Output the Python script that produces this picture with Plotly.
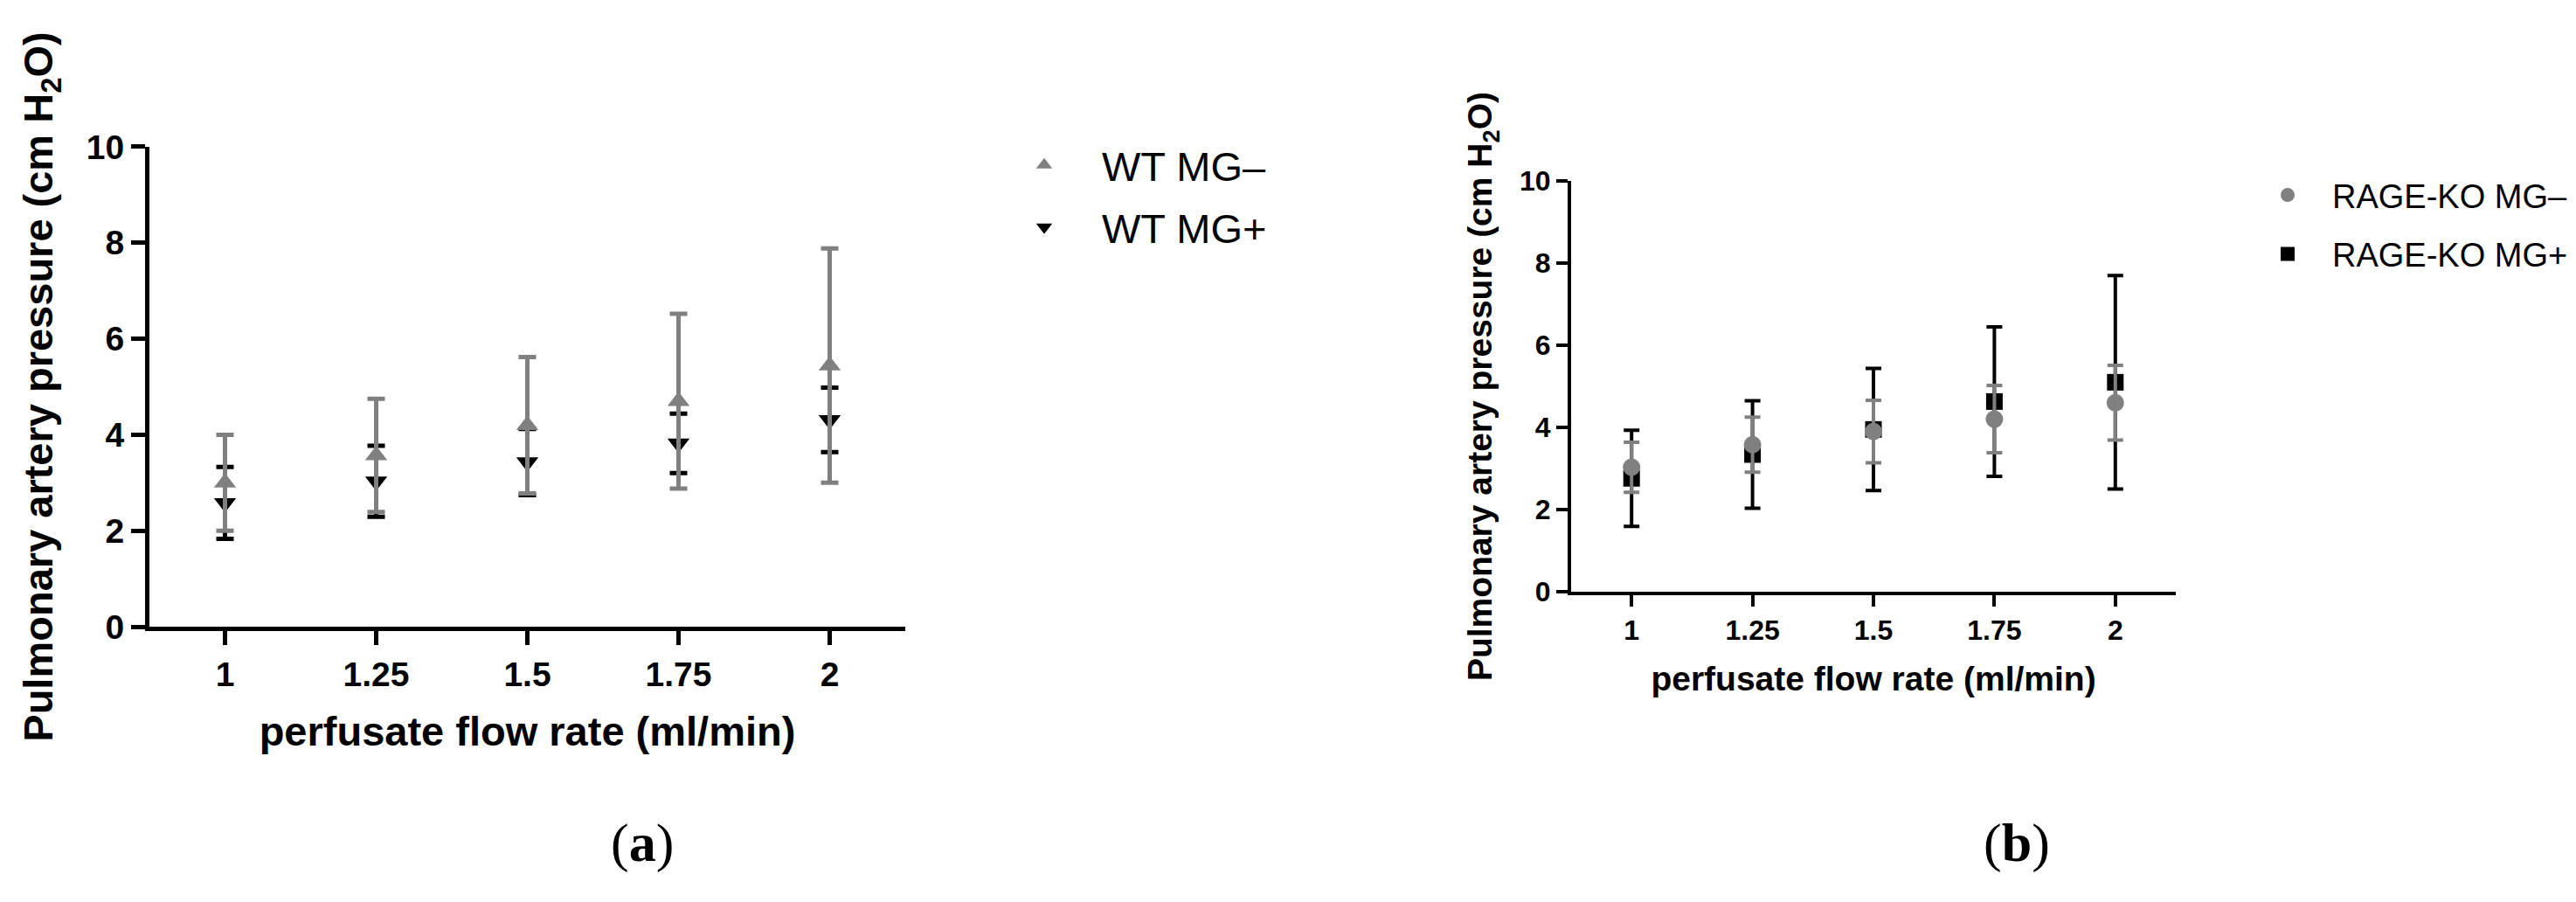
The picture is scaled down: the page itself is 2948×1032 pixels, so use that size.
import plotly.graph_objects as go

# flow rate categories (ml/min)
flow_rate = [1, 1.25, 1.5, 1.75, 2]
tick_text = ["1", "1.25", "1.5", "1.75", "2"]
y_ticks = [0, 2, 4, 6, 8, 10]

# panel (a) - wild type
wt_mg_minus = [3.0, 3.57, 4.2, 4.7, 5.44]
wt_mg_minus_err = [1.0, 1.18, 1.42, 1.82, 2.44]
wt_mg_plus = [2.58, 3.03, 3.43, 3.82, 4.31]
wt_mg_plus_err = [0.75, 0.74, 0.69, 0.62, 0.67]

# panel (b) - RAGE knockout
ko_mg_minus = [3.03, 3.58, 3.9, 4.2, 4.6]
ko_mg_minus_err = [0.61, 0.67, 0.76, 0.82, 0.91]
ko_mg_plus = [2.76, 3.34, 3.95, 4.63, 5.1]
ko_mg_plus_err = [1.17, 1.31, 1.49, 1.82, 2.6]

GRAY = '#808080'
BLACK = '#000000'
SANS = 'Liberation Sans, Arial, sans-serif'
W, H = 2948, 1032

fig = go.Figure()

# panel a: MG+ first so the gray series sits on top
fig.add_trace(go.Scatter(
    x=flow_rate, y=wt_mg_plus, mode='markers', name='WT MG+',
    marker=dict(symbol='triangle-down', size=22, color=BLACK),
    error_y=dict(type='data', array=wt_mg_plus_err, color=BLACK, thickness=5, width=10),
    xaxis='x', yaxis='y', legend='legend', legendrank=2, legendgroup='a2',
))
fig.add_trace(go.Scatter(
    x=flow_rate, y=wt_mg_minus, mode='markers', name='WT MG–',
    marker=dict(symbol='triangle-up', size=22, color=GRAY),
    error_y=dict(type='data', array=wt_mg_minus_err, color=GRAY, thickness=5, width=10),
    xaxis='x', yaxis='y', legend='legend', legendrank=1, legendgroup='a1',
))

# panel b
fig.add_trace(go.Scatter(
    x=flow_rate, y=ko_mg_plus, mode='markers', name='RAGE-KO MG+',
    marker=dict(symbol='square', size=19, color=BLACK),
    error_y=dict(type='data', array=ko_mg_plus_err, color=BLACK, thickness=4, width=9),
    xaxis='x2', yaxis='y2', legend='legend2', legendrank=2, legendgroup='b2',
))
fig.add_trace(go.Scatter(
    x=flow_rate, y=ko_mg_minus, mode='markers', name='RAGE-KO MG–',
    marker=dict(symbol='circle', size=20, color=GRAY),
    error_y=dict(type='data', array=ko_mg_minus_err, color=GRAY, thickness=4, width=9),
    xaxis='x2', yaxis='y2', legend='legend2', legendrank=1, legendgroup='b1',
))


def x_axis(domain, anchor, lw, tlen, tsize, tisize, standoff):
    return dict(
        domain=domain, anchor=anchor, range=[0.875, 2.125],
        tickvals=flow_rate, ticktext=tick_text,
        showline=True, linecolor=BLACK, linewidth=lw,
        ticks='outside', ticklen=tlen, tickwidth=lw, tickcolor=BLACK,
        showgrid=False, zeroline=False,
        tickfont=dict(family=SANS, size=tsize, color=BLACK, weight='bold'),
        title=dict(text='perfusate flow rate (ml/min)', standoff=standoff,
                   font=dict(family=SANS, size=tisize, color=BLACK, weight='bold')),
    )


def y_axis(domain, anchor, lw, tlen, tsize, tisize, standoff):
    return dict(
        domain=domain, anchor=anchor, range=[0, 10], tickvals=y_ticks,
        showline=True, linecolor=BLACK, linewidth=lw,
        ticks='outside', ticklen=tlen, tickwidth=lw, tickcolor=BLACK,
        showgrid=False, zeroline=False,
        tickfont=dict(family=SANS, size=tsize, color=BLACK, weight='bold'),
        title=dict(text='Pulmonary artery pressure (cm H<sub>2</sub>O)', standoff=standoff,
                   font=dict(family=SANS, size=tisize, color=BLACK, weight='bold')),
    )


fig.update_layout(
    width=W, height=H,
    margin=dict(l=0, r=0, t=0, b=0),
    plot_bgcolor='white', paper_bgcolor='white',
    xaxis=x_axis([163 / W, 1028 / W], 'y', 5, 16, 39, 47, 30),
    yaxis=y_axis([1 - 718 / H, 1 - 145 / H], 'x', 5, 16, 39, 47, 25),
    xaxis2=x_axis([1790 / W, 2482 / W], 'y2', 4, 13, 32, 39, 25),
    yaxis2=y_axis([1 - 676 / H, 1 - 186 / H], 'x2', 4, 13, 32, 39, 20),
    legend=dict(
        x=(1187 - 66) / W, xanchor='left', y=1 - 128 / H, yanchor='top',
        font=dict(family=SANS, size=47, color=BLACK),
        itemwidth=122, bgcolor='rgba(0,0,0,0)', tracegroupgap=7,
    ),
    legend2=dict(
        x=(2610 - 51) / W, xanchor='left', y=1 - 170 / H, yanchor='top',
        font=dict(family=SANS, size=38, color=BLACK),
        itemwidth=92, bgcolor='rgba(0,0,0,0)', tracegroupgap=15,
    ),
    annotations=[
        dict(text='(<b>a</b>)', x=727 / W, y=1 - 976 / H, xref='paper', yref='paper',
             xanchor='center', yanchor='middle', showarrow=False,
             font=dict(family='Liberation Serif, serif', size=62, color=BLACK)),
        dict(text='(<b>b</b>)', x=2300 / W, y=1 - 976 / H, xref='paper', yref='paper',
             xanchor='center', yanchor='middle', showarrow=False,
             font=dict(family='Liberation Serif, serif', size=62, color=BLACK)),
    ],
)

fig.write_html("out.html")
